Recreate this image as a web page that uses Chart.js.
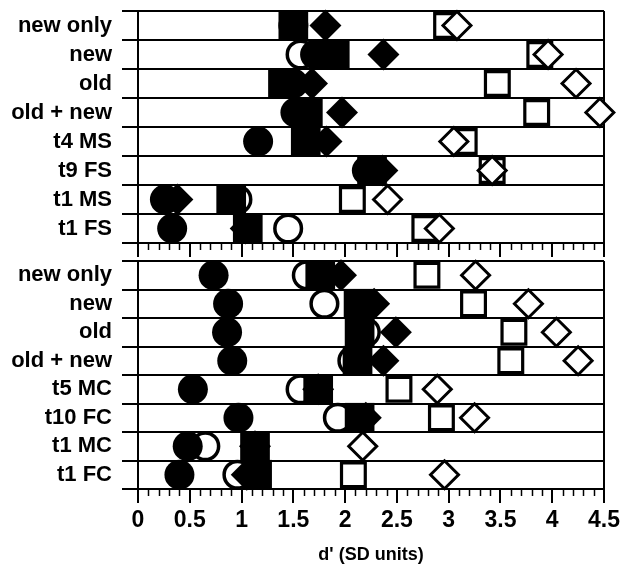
<!DOCTYPE html>
<html lang="en">
<head>
<meta charset="UTF-8">
<title>d' (SD units)</title>
<script src="https://cdn.jsdelivr.net/npm/chart.js@4.4.1/dist/chart.umd.min.js"></script>
<style>
    html, body { margin: 0; padding: 0; background: #fff; }
    .chart-container { position: relative; width: 624px; height: 565px; overflow: hidden; }
    #topChart { position: absolute; left: 0; top: 0; }
    #bottomChart { position: absolute; left: 0; top: 259px; }
</style>
</head>
<body>
<div class="chart-container">
    <canvas id="topChart" width="624" height="261"></canvas>
    <canvas id="bottomChart" width="624" height="312"></canvas>
</div>
<script>
// 上段パネルの行ラベルとデータ
const topLabels = ['new only', 'new', 'old', 'old + new', 't4 MS', 't9 FS', 't1 MS', 't1 FS'];
const topFilledCircle  = [1.50, 1.71, 1.50, 1.52, 1.16, 2.21, 0.26, 0.33];
const topOpenCircle    = [null, 1.57, null, null, null, null, 0.96, 1.45];
const topFilledSquare  = [1.50, 1.90, 1.40, 1.64, 1.62, 2.26, 0.90, 1.06];
const topOpenSquare    = [2.98, 3.88, 3.47, 3.85, 3.15, 3.42, 2.07, 2.77];
const topFilledDiamond = [1.81, 2.37, 1.68, 1.97, 1.82, 2.36, 0.38, 1.04];
const topOpenDiamond   = [3.08, 3.96, 4.23, 4.46, 3.05, 3.42, 2.41, 2.91];

// 下段パネルの行ラベルとデータ
const bottomLabels = ['new only', 'new', 'old', 'old + new', 't5 MC', 't10 FC', 't1 MC', 't1 FC'];
const botFilledCircle  = [0.73, 0.87, 0.86, 0.91, 0.53, 0.97, 0.48, 0.40];
const botOpenCircle    = [1.63, 1.80, 2.20, 2.07, 1.57, 1.93, 0.65, 0.96];
const botFilledSquare  = [1.76, 2.13, 2.14, 2.12, 1.74, 2.14, 1.13, 1.15];
const botOpenSquare    = [2.79, 3.24, 3.63, 3.60, 2.52, 2.93, 1.13, 2.08];
const botFilledDiamond = [1.96, 2.28, 2.49, 2.37, 1.74, 2.20, 1.13, 1.05];
const botOpenDiamond   = [3.26, 3.77, 4.04, 4.25, 2.89, 3.25, 2.17, 2.96];

// x軸の目盛り
const xMin = 0;
const xMax = 4.5;
const majorStep = 0.5;
const minorStep = 0.1;
const xTitle = "d' (SD units)";

const FONT = '"Liberation Sans", Arial, Helvetica, sans-serif';

// 副目盛りを描くプラグイン
const minorTicksPlugin = {
    id: 'minorTicks',
    afterDraw(chart) {
        const xScale = chart.scales.x;
        const { ctx, chartArea } = chart;
        const count = Math.round((xMax - xMin) / minorStep);
        const every = Math.round(majorStep / minorStep);
        ctx.save();
        ctx.strokeStyle = '#000';
        ctx.lineWidth = 1.5;
        for (let i = 0; i <= count; i++) {
            if (i % every === 0) continue;
            const px = Math.round(xScale.getPixelForValue(xMin + i * minorStep)) + 0.5;
            ctx.beginPath();
            ctx.moveTo(px, chartArea.bottom);
            ctx.lineTo(px, chartArea.bottom + 7);
            ctx.stroke();
        }
        ctx.restore();
    }
};

function toPoints(labels, values) {
    return values
        .map((v, i) => (v === null ? null : { x: v, y: labels[i] }))
        .filter(p => p !== null);
}

function markerDataset(labels, values, style) {
    return Object.assign({
        data: toPoints(labels, values),
        showLine: false,
        clip: false
    }, style);
}

// マーカーの見た目 (先頭ほど手前に描画)
const filledDiamondStyle = { pointStyle: 'rectRot', pointRadius: 16, pointHoverRadius: 16, pointBackgroundColor: '#000', pointBorderWidth: 0 };
const filledSquareStyle  = { pointStyle: 'rect', pointRadius: 21, pointHoverRadius: 21, pointBackgroundColor: '#000', pointBorderWidth: 0 };
const filledCircleStyle  = { pointStyle: 'circle', pointRadius: 15, pointHoverRadius: 15, pointBackgroundColor: '#000', pointBorderWidth: 0 };
const openDiamondStyle   = { pointStyle: 'rectRot', pointRadius: 14, pointHoverRadius: 14, pointBackgroundColor: '#fff', pointBorderColor: '#000', pointBorderWidth: 3 };
const openSquareStyle    = { pointStyle: 'rect', pointRadius: 16.8, pointHoverRadius: 16.8, pointBackgroundColor: '#fff', pointBorderColor: '#000', pointBorderWidth: 3.2 };
const openCircleStyle    = { pointStyle: 'circle', pointRadius: 13.3, pointHoverRadius: 13.3, pointBackgroundColor: '#fff', pointBorderColor: '#000', pointBorderWidth: 3.5 };

function buildChart(canvasId, labels, series, showAxisLabels) {
    const ctx = document.getElementById(canvasId).getContext('2d');
    return new Chart(ctx, {
        type: 'scatter',
        data: {
            datasets: [
                markerDataset(labels, series.filledDiamond, filledDiamondStyle),
                markerDataset(labels, series.filledSquare, filledSquareStyle),
                markerDataset(labels, series.filledCircle, filledCircleStyle),
                markerDataset(labels, series.openDiamond, openDiamondStyle),
                markerDataset(labels, series.openSquare, openSquareStyle),
                markerDataset(labels, series.openCircle, openCircleStyle)
            ]
        },
        options: {
            responsive: false,
            animation: false,
            events: [],
            layout: {
                autoPadding: false,
                padding: showAxisLabels
                    ? { top: 2, right: 20, bottom: 2.8, left: 0 }
                    : { top: 11, right: 20, bottom: 4, left: 0 }
            },
            plugins: {
                legend: { display: false },
                tooltip: { enabled: false },
                title: { display: false }
            },
            scales: {
                x: {
                    type: 'linear',
                    min: xMin,
                    max: xMax,
                    ticks: {
                        display: showAxisLabels,
                        stepSize: majorStep,
                        color: '#000',
                        padding: 4,
                        font: { family: FONT, size: 23, weight: 'bold' },
                        callback: (v) => String(Math.round(v * 10) / 10)
                    },
                    grid: {
                        drawOnChartArea: true,
                        drawTicks: true,
                        tickLength: 14,
                        tickColor: '#000',
                        lineWidth: 2,
                        color: (c) => (c.tick && (c.tick.value === xMin || c.tick.value === xMax)) ? '#000' : 'rgba(0,0,0,0)'
                    },
                    border: { display: true, color: '#000', width: 2 },
                    title: {
                        display: showAxisLabels,
                        text: xTitle,
                        color: '#000',
                        padding: { top: 6, bottom: 2 },
                        font: { family: FONT, size: 18, weight: 'bold' }
                    }
                },
                y: {
                    type: 'category',
                    labels: labels,
                    offset: true,
                    afterFit: (scale) => {
                        scale.width = 138;
                        scale.paddingTop = 0;
                        scale.paddingBottom = 0;
                    },
                    ticks: {
                        color: '#000',
                        padding: 10,
                        autoSkip: false,
                        font: { family: FONT, size: 22, weight: 'bold', lineHeight: 1 }
                    },
                    grid: {
                        offset: true,
                        color: '#000',
                        tickColor: '#000',
                        lineWidth: 2,
                        tickLength: 16
                    },
                    border: { display: true, color: '#000', width: 2 }
                }
            }
        },
        plugins: [minorTicksPlugin]
    });
}

document.addEventListener('DOMContentLoaded', () => {
    buildChart('topChart', topLabels, {
        filledCircle: topFilledCircle,
        openCircle: topOpenCircle,
        filledSquare: topFilledSquare,
        openSquare: topOpenSquare,
        filledDiamond: topFilledDiamond,
        openDiamond: topOpenDiamond
    }, false);

    buildChart('bottomChart', bottomLabels, {
        filledCircle: botFilledCircle,
        openCircle: botOpenCircle,
        filledSquare: botFilledSquare,
        openSquare: botOpenSquare,
        filledDiamond: botFilledDiamond,
        openDiamond: botOpenDiamond
    }, true);
});
</script>
</body>
</html>
